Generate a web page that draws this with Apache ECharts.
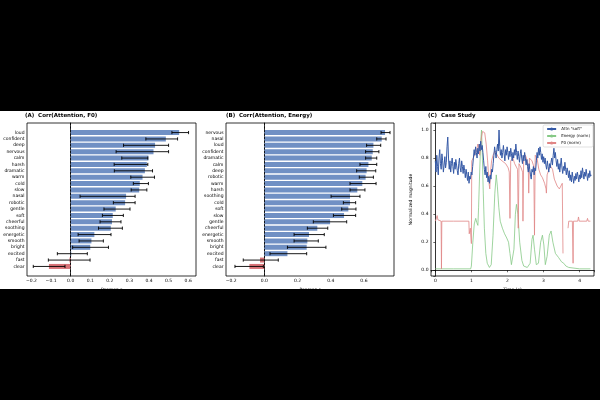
<!DOCTYPE html>
<html>
<head>
<meta charset="utf-8">
<title>Attention correlations</title>
<script src="https://cdn.jsdelivr.net/npm/echarts@6/dist/echarts.min.js"></script>
<style>
html, body { margin: 0; padding: 0; background: #000; }
#chart { width: 600px; height: 400px; }
</style>
</head>
<body>
<div id="chart"></div>
<script>
// (A) Corr(Attention, F0)
var f0Names = ['loud', 'confident', 'deep', 'nervous', 'calm', 'harsh', 'dramatic', 'warm', 'cold', 'slow', 'nasal',
	'robotic', 'gentle', 'soft', 'cheerful', 'soothing', 'energetic', 'smooth', 'bright', 'excited', 'fast', 'clear'];
var f0Corr = [0.554, 0.486, 0.431, 0.423, 0.397, 0.389, 0.379, 0.367, 0.353, 0.350, 0.283,
	0.278, 0.230, 0.215, 0.211, 0.205, 0.121, 0.106, 0.100, 0.003, -0.006, -0.111];
var f0Lo = [0.517, 0.384, 0.270, 0.232, 0.261, 0.222, 0.223, 0.307, 0.320, 0.309, 0.048,
	0.218, 0.170, 0.162, 0.150, 0.142, 0.038, 0.043, 0.010, -0.068, -0.114, -0.191];
var f0Hi = [0.602, 0.546, 0.500, 0.500, 0.394, 0.394, 0.418, 0.428, 0.397, 0.389, 0.329,
	0.329, 0.303, 0.269, 0.257, 0.264, 0.206, 0.167, 0.193, 0.085, 0.099, -0.029];

// (B) Corr(Attention, Energy)
var enNames = ['nervous', 'nasal', 'loud', 'confident', 'dramatic', 'calm', 'deep', 'robotic', 'warm', 'harsh', 'soothing',
	'cold', 'soft', 'slow', 'gentle', 'cheerful', 'energetic', 'smooth', 'bright', 'excited', 'fast', 'clear'];
var enCorr = [0.727, 0.707, 0.657, 0.653, 0.647, 0.627, 0.616, 0.610, 0.590, 0.560, 0.516,
	0.516, 0.506, 0.480, 0.396, 0.319, 0.269, 0.259, 0.255, 0.139, -0.026, -0.090];
var enLo = [0.703, 0.677, 0.616, 0.610, 0.610, 0.576, 0.556, 0.572, 0.516, 0.516, 0.402,
	0.476, 0.466, 0.416, 0.295, 0.259, 0.179, 0.179, 0.139, 0.034, -0.127, -0.177];
var enHi = [0.757, 0.733, 0.701, 0.690, 0.677, 0.677, 0.671, 0.657, 0.673, 0.606, 0.576,
	0.550, 0.552, 0.550, 0.496, 0.382, 0.361, 0.325, 0.371, 0.255, 0.084, -0.006];

// (C) Case Study - attention sampled every attnStep seconds
var attnStep = 0.0203;
var attn = [
	0.78, 0.70, 0.82, 0.74, 0.68, 0.80, 0.86, 0.76, 0.72, 0.83, 0.78, 0.70, 0.75, 0.81, 0.73, 0.77,
	0.88, 0.95, 0.80,
	0.72, 0.78, 0.70, 0.76, 0.80, 0.74, 0.69, 0.77, 0.72, 0.79, 0.75, 0.71, 0.68, 0.76, 0.80, 0.73, 0.70, 0.78, 0.74, 0.69, 0.75, 0.71, 0.66, 0.72, 0.68, 0.64, 0.70,
	0.62, 0.67, 0.65, 0.70, 0.68,
	0.74, 0.80, 0.86, 0.82, 0.88, 0.84, 0.80, 0.87, 0.83, 0.90, 0.85, 0.92, 0.86, 0.89, 0.84,
	0.78, 0.72, 0.68, 0.74, 0.66, 0.70, 0.63, 0.67, 0.62, 0.68, 0.65, 0.72, 0.70,
	0.76, 0.82, 0.88, 0.84, 0.80, 0.86, 0.90, 0.85, 1.00, 0.88,
	0.82, 0.86, 0.80, 0.84, 0.89, 0.83, 0.78, 0.86, 0.82, 0.88, 0.84, 0.79, 0.85, 0.81, 0.87, 0.83, 0.78, 0.84, 0.80, 0.86,
	0.82, 0.90, 0.84, 0.79, 0.85, 0.81, 0.77, 0.83, 0.86, 0.80, 0.76, 0.82, 0.78, 0.84, 0.80, 0.75, 0.79,
	0.74, 0.70, 0.76, 0.72, 0.68, 0.65, 0.72, 0.70, 0.74, 0.68, 0.73, 0.71,
	0.78, 0.84, 0.80, 0.87, 0.82, 0.88, 0.84, 0.79, 0.83, 0.77, 0.81, 0.76, 0.80,
	0.75, 0.72, 0.78, 0.74, 0.70, 0.76, 0.73, 0.77, 0.80, 0.75,
	0.82, 0.87, 0.80, 0.84, 0.78,
	0.74, 0.79, 0.72, 0.76, 0.70, 0.75, 0.80, 0.73, 0.69, 0.74, 0.71, 0.77, 0.72, 0.68, 0.73,
	0.70, 0.66, 0.71, 0.64, 0.68, 0.63, 0.70, 0.66, 0.62, 0.67, 0.64, 0.69, 0.65, 0.70, 0.67, 0.63, 0.68,
	0.65, 0.71, 0.66, 0.73, 0.69, 0.65, 0.70, 0.67, 0.72, 0.68, 0.64, 0.69, 0.66, 0.71, 0.67, 0.68
];
var energy = [
	[0, 0.01], [0.5, 0.01], [0.98, 0.01], [1.0, 0.03], [1.04, 0.2], [1.08, 0.33], [1.12, 0.37], [1.15, 0.34],
	[1.18, 0.32], [1.2, 0.45], [1.23, 0.7], [1.26, 0.92], [1.28, 1.0], [1.3, 0.85], [1.33, 0.55], [1.36, 0.3],
	[1.4, 0.12], [1.44, 0.05], [1.5, 0.02], [1.55, 0.04], [1.6, 0.25], [1.65, 0.55], [1.69, 0.68], [1.72, 0.6],
	[1.76, 0.45], [1.8, 0.35], [1.86, 0.3], [1.92, 0.26], [1.98, 0.23], [2.03, 0.2], [2.07, 0.12], [2.11, 0.04],
	[2.14, 0.03], [2.18, 0.15], [2.22, 0.4], [2.25, 0.47], [2.29, 0.4], [2.34, 0.2], [2.4, 0.07], [2.45, 0.03],
	[2.55, 0.02], [2.63, 0.05], [2.68, 0.22], [2.71, 0.25], [2.75, 0.15], [2.8, 0.04], [2.86, 0.05], [2.92, 0.2],
	[2.97, 0.25], [3.01, 0.18], [3.05, 0.04], [3.1, 0.1], [3.16, 0.25], [3.21, 0.28], [3.26, 0.2], [3.33, 0.12],
	[3.42, 0.09], [3.5, 0.06], [3.56, 0.05], [3.62, 0.03], [3.7, 0.02], [4.0, 0.01], [4.3, 0.01]
];
var pitch = [
	[0, 0.35], [0.03, 0.37], [0.05, 0.39], [0.07, 0.36], [0.1, 0.35], [0.16, 0.35], [0.17, 0.01], [0.18, 0.35],
	[0.5, 0.35], [0.93, 0.35], [0.94, 0.26], [0.97, 0.3], [1.0, 0.19], [1.01, 0.78], [1.05, 0.8], [1.1, 0.83],
	[1.14, 0.85], [1.18, 0.9], [1.2, 0.88], [1.23, 0.82], [1.26, 0.9], [1.28, 0.95], [1.31, 0.99], [1.34, 1.0],
	[1.37, 0.98], [1.41, 0.9], [1.45, 0.78], [1.49, 0.62], [1.51, 0.58], [1.53, 0.7], [1.56, 0.78], [1.6, 0.82],
	[1.65, 0.85], [1.7, 0.83], [1.76, 0.8], [1.85, 0.78], [1.95, 0.76], [2.02, 0.73], [2.05, 0.7], [2.07, 0.37],
	[2.09, 0.78], [2.15, 0.8], [2.2, 0.76], [2.28, 0.72], [2.3, 0.3], [2.32, 0.76], [2.38, 0.73], [2.42, 0.7],
	[2.43, 0.35], [2.45, 0.8], [2.5, 0.82], [2.55, 0.78], [2.58, 0.7], [2.59, 0.55], [2.61, 0.8], [2.68, 0.78],
	[2.73, 0.74], [2.75, 0.25], [2.77, 0.82], [2.82, 0.8], [2.87, 0.72], [2.92, 0.68], [2.97, 0.66], [3.03, 0.62],
	[3.07, 0.58], [3.08, 0.55], [3.1, 0.68], [3.15, 0.72], [3.2, 0.74], [3.25, 0.72], [3.3, 0.65], [3.38, 0.6],
	[3.44, 0.58], [3.48, 0.6], [3.52, 0.62], [3.54, 0.12], [3.56, null],
	[3.68, 0.3], [3.7, 0.35], [3.8, 0.35], [3.82, 0.05], [3.83, 0.35], [3.95, 0.35], [3.97, 0.38], [3.99, 0.35],
	[4.2, 0.35], [4.22, 0.37], [4.24, 0.35], [4.3, 0.35]
];

var FONT = 'DejaVu Sans';
var BLUE = '#7090c4';
var RED = '#d87378';

function fmtTick(step, digits) {
	return function(v) {
		var r = Math.round(v / step) * step;
		if (Math.abs(v - r) > 1e-6) return '';
		return r.toFixed(digits).replace('-', '\u2212');
	};
}

function pad(arr, blank) {
	return [blank].concat(arr, [blank]);
}

function valueAxis(grid, min, max, split, step, digits, name) {
	return {
		gridIndex: grid, type: 'value', min: min, max: max, splitNumber: split,
		splitLine: { show: false },
		axisLine: { lineStyle: { color: '#000', width: 0.8 } },
		axisTick: { length: 2, lineStyle: { color: '#000', width: 0.6 } },
		axisLabel: { fontSize: 4.5, fontFamily: FONT, color: '#000', margin: 2.5, formatter: fmtTick(step, digits) },
		name: name, nameLocation: 'middle', nameGap: 11,
		nameTextStyle: { fontSize: 4.5, fontFamily: FONT, color: '#000' }
	};
}

function catAxis(grid, names) {
	return {
		gridIndex: grid, type: 'category', data: pad(names, ''), inverse: true,
		axisLine: { lineStyle: { color: '#000', width: 0.8 } },
		axisTick: { alignWithLabel: true, length: 2, lineStyle: { color: '#000', width: 0.6 },
			interval: function(i, v) { return v !== ''; } },
		axisLabel: { interval: 0, fontSize: 4.5, fontFamily: FONT, color: '#000', margin: 2.5 }
	};
}

function barSeries(grid, vals) {
	return {
		type: 'bar', xAxisIndex: grid, yAxisIndex: grid, barWidth: 5,
		data: pad(vals, '-').map(function(v) {
			if (v === '-') return '-';
			return { value: v, itemStyle: { color: v < 0 ? RED : BLUE } };
		}),
		markLine: {
			silent: true, symbol: 'none', label: { show: false },
			lineStyle: { color: '#000', type: [2, 1.5], width: 0.8 },
			data: [{ xAxis: 0 }]
		}
	};
}

function errSeries(grid, lo, hi) {
	var data = [];
	for (var i = 0; i < lo.length; i++) {
		data.push([lo[i], hi[i], i + 1]);
	}
	return {
		type: 'custom', xAxisIndex: grid, yAxisIndex: grid, z: 5,
		encode: { x: [0, 1], y: 2 },
		data: data,
		renderItem: function(params, api) {
			var y = api.coord([0, api.value(2)])[1];
			var x1 = api.coord([api.value(0), api.value(2)])[0];
			var x2 = api.coord([api.value(1), api.value(2)])[0];
			var c = 1.6;
			var st = { stroke: '#000', lineWidth: 0.9 };
			return {
				type: 'group',
				children: [
					{ type: 'line', shape: { x1: x1, y1: y, x2: x2, y2: y }, style: st },
					{ type: 'line', shape: { x1: x1, y1: y - c, x2: x1, y2: y + c }, style: st },
					{ type: 'line', shape: { x1: x2, y1: y - c, x2: x2, y2: y + c }, style: st }
				]
			};
		}
	};
}

var attnData = [];
for (var i = 0; i < attn.length; i++) {
	attnData.push([i * attnStep, attn[i]]);
}

var titleStyle = { fontSize: 5.5, fontWeight: 'bold', fontFamily: FONT, color: '#000' };
var gridBase = { show: true, borderColor: '#000', borderWidth: 0.8, backgroundColor: 'transparent' };

var myChart = echarts.init(document.getElementById('chart'));
var option = {
	animation: false,
	backgroundColor: '#fff',
	title: [
		{ text: '(A)  Corr(Attention, F0)', left: 25, top: 113, padding: 0, textStyle: titleStyle },
		{ text: '(B)  Corr(Attention, Energy)', left: 226, top: 113, padding: 0, textStyle: titleStyle },
		{ text: '(C)  Case Study', left: 428, top: 113, padding: 0, textStyle: titleStyle }
	],
	grid: [
		Object.assign({ left: 27, top: 123, width: 169, height: 153 }, gridBase),
		Object.assign({ left: 226, top: 123, width: 168, height: 153 }, gridBase),
		Object.assign({ left: 431, top: 123, width: 163, height: 153 }, gridBase)
	],
	xAxis: [
		valueAxis(0, -0.223, 0.64, 9, 0.1, 1, 'Pearson r'),
		valueAxis(1, -0.231, 0.781, 5, 0.2, 1, 'Pearson r'),
		valueAxis(2, -0.12, 4.40, 5, 1, 0, 'Time (s)')
	],
	yAxis: [
		catAxis(0, f0Names),
		catAxis(1, enNames),
		Object.assign(valueAxis(2, -0.041, 1.05, 5, 0.2, 1, 'Normalized magnitude'), { nameGap: 18 })
	],
	legend: {
		data: ['Attn "soft"', 'Energy (norm)', 'F0 (norm)'],
		orient: 'vertical', right: 7, top: 125,
		itemWidth: 9, itemHeight: 4, itemGap: 3,
		textStyle: { fontSize: 4, fontFamily: FONT, color: '#000' },
		borderColor: '#ccc', borderWidth: 0.6, borderRadius: 1.5, padding: [2, 3],
		backgroundColor: 'rgba(255,255,255,0.85)'
	},
	graphic: [
		{ type: 'rect', z: 100, shape: { x: 0, y: 0, width: 600, height: 111 }, style: { fill: '#000' } },
		{ type: 'rect', z: 100, shape: { x: 0, y: 289, width: 600, height: 111 }, style: { fill: '#000' } }
	],
	series: [
		barSeries(0, f0Corr),
		errSeries(0, f0Lo, f0Hi),
		barSeries(1, enCorr),
		errSeries(1, enLo, enHi),
		{
			name: 'Attn "soft"', type: 'line', xAxisIndex: 2, yAxisIndex: 2, data: attnData,
			symbol: 'none', lineStyle: { color: '#3559a6', width: 1.0 }, itemStyle: { color: '#3559a6' }, z: 4
		},
		{
			name: 'Energy (norm)', type: 'line', xAxisIndex: 2, yAxisIndex: 2, data: energy,
			symbol: 'none', lineStyle: { color: '#86c986', width: 0.8 }, itemStyle: { color: '#86c986' }, z: 2
		},
		{
			name: 'F0 (norm)', type: 'line', xAxisIndex: 2, yAxisIndex: 2, data: pitch,
			symbol: 'none', connectNulls: false, lineStyle: { color: '#e08585', width: 0.8 }, itemStyle: { color: '#e08585' }, z: 3
		}
	]
};
myChart.setOption(option);
window.onresize = function() {
	myChart.resize();
};
</script>
</body>
</html>
